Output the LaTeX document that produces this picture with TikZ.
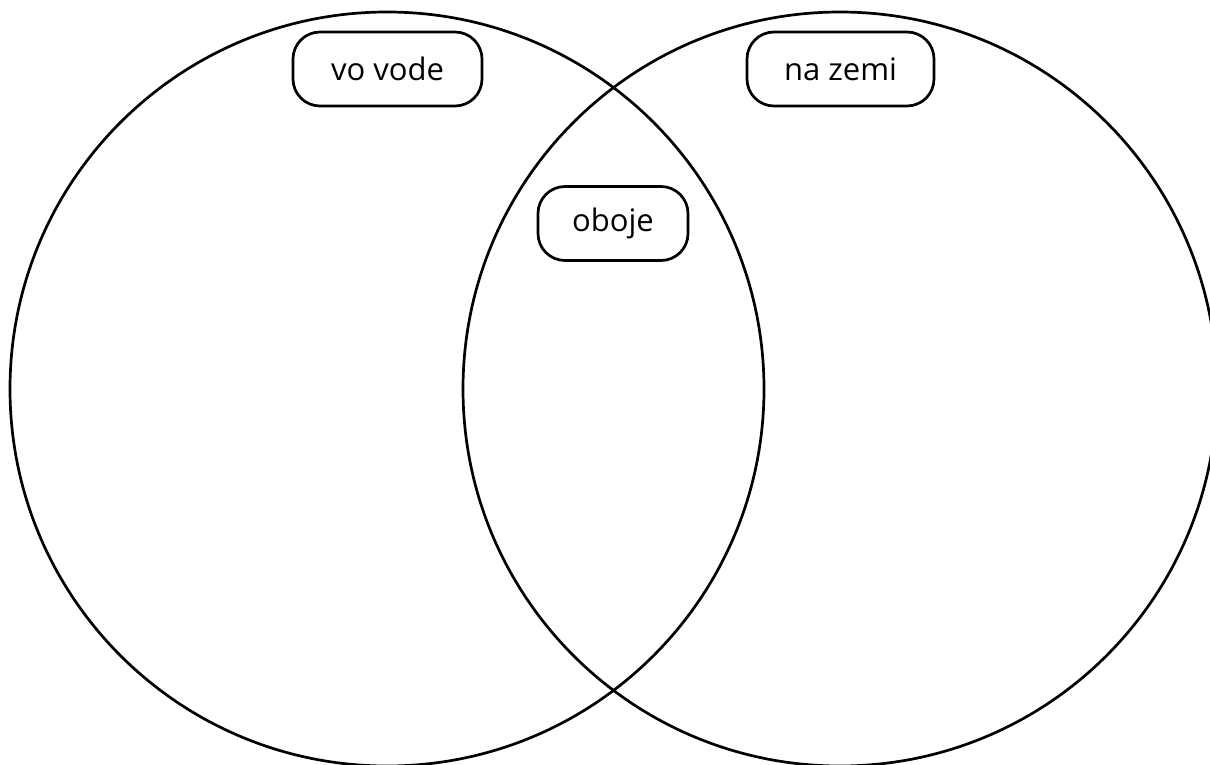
\documentclass[tikz,border=0pt]{standalone}
\usepackage{fontspec}
\setmainfont{Open Sans}
\tikzset{
    label box/.style={draw, line width=2.7pt, rounded corners=27pt, minimum height=74pt, inner xsep=0pt, font=\fontsize{31}{36}\selectfont}
}

\begin{document}
\begin{tikzpicture}[x=1pt, y=-1pt]
    \useasboundingbox (0,0) rectangle (1210,765);
    \clip (0,0) rectangle (1210,765);
    \draw[line width=2.7pt](387,389) circle[radius=377pt];
    \draw[line width=2.7pt](840,389) circle[radius=377pt];
    \node[label box, minimum width=189pt](water) at (387.5,69) {vo vode};
    \node[label box, minimum width=187pt](land) at (840.5,69) {na zemi};
    \node[label box, minimum width=150pt](both) at (613,223.5) {oboje};
\end{tikzpicture}
\end{document}
